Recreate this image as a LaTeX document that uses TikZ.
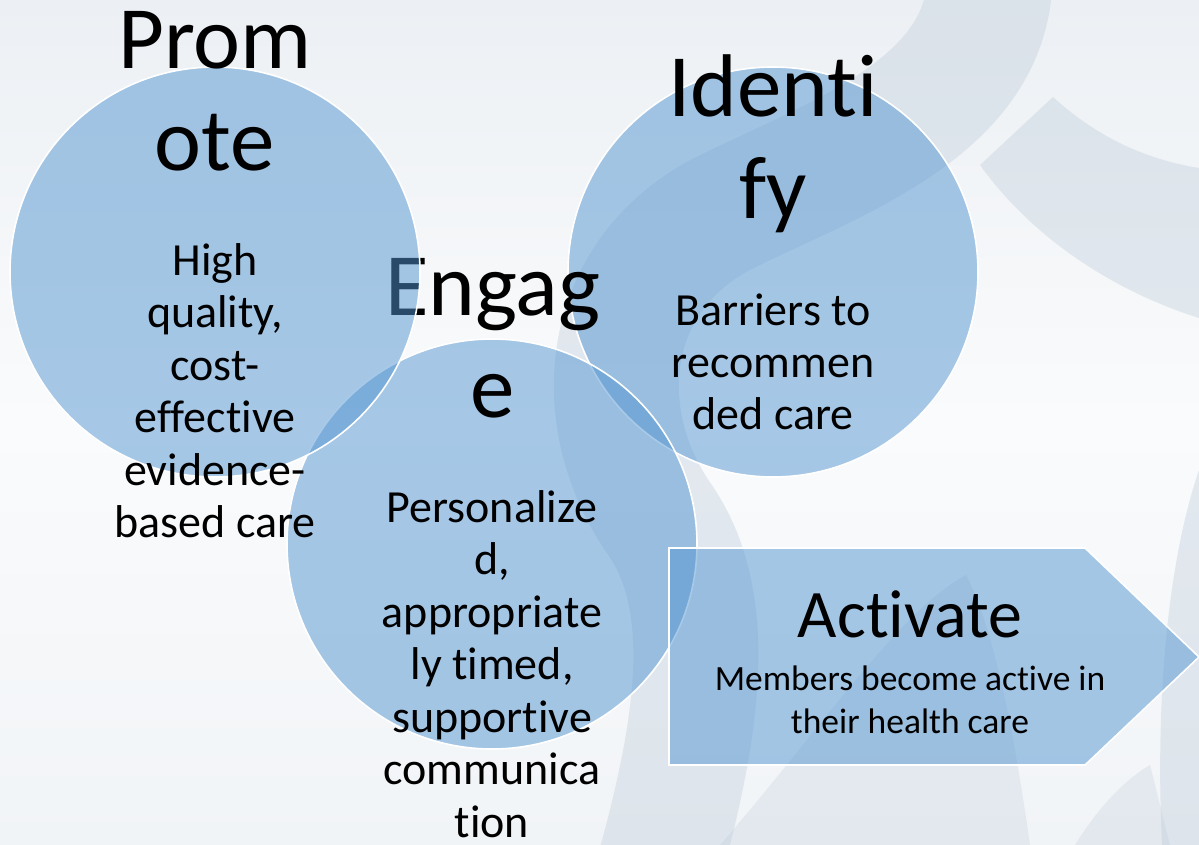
\documentclass[tikz,border=0pt]{standalone}
\usepackage{fontspec}
\setmainfont{Carlito}[Ligatures={NoCommon}]
\begin{document}
\begin{tikzpicture}[x=1pt,y=-1pt,
  bubble/.style={circle, minimum size=410pt, inner sep=0pt, draw=white, line width=1.6pt,
    fill=venn, fill opacity=0.5},
  headline/.style={font=\fontsize{89}{107}\selectfont, text=black, inner sep=0pt},
  body/.style={font=\fontsize{46}{55}\selectfont, text=black, inner sep=0pt},
  smallbody/.style={font=\fontsize{35.5}{43}\selectfont, text=black, inner sep=0pt},
  ribbon/.style={fill=ribbongray, draw=none, opacity=0.38},
  band/.style={draw=ribbongray, line cap=butt, opacity=0.38}]
\definecolor{venn}{RGB}{83,149,209}
\definecolor{ribbongray}{RGB}{190,204,218}
\definecolor{bgtop}{RGB}{236,240,244}
\definecolor{bgmid}{RGB}{250,251,252}
\definecolor{bgbot}{RGB}{241,244,247}

% page and soft background
\useasboundingbox (0,0) rectangle (1199,845);
\shade[top color=bgtop, bottom color=bgbot, middle color=bgmid] (0,0) rectangle (1199,845);

% faint ribbons of the backdrop
\draw[band, line width=125pt] (990,-20) .. controls (985,110) and (830,160) .. (720,215)
  .. controls (600,280) and (590,420) .. (660,520)
  .. controls (715,600) and (700,720) .. (660,865);
\fill[ribbon] (980,165) -- (1053,97) .. controls (1100,140) and (1150,160) .. (1199,168)
  -- (1199,318) .. controls (1110,290) and (1030,235) .. cycle;
\fill[ribbon] (1199,470) .. controls (1168,560) and (1155,700) .. (1162,845) -- (1199,845) -- cycle;
\fill[ribbon, opacity=0.28] (720,845) .. controls (820,730) and (900,610) .. (966,575)
  .. controls (995,630) and (1015,740) .. (1030,845) -- cycle;
\fill[ribbon, opacity=0.28] (1075,845) .. controls (1100,805) and (1125,780) .. (1150,765)
  -- (1170,845) -- cycle;

% Identify circle and its text
\node[bubble] (identify) at (773,272) {};
\foreach \t [count=\i from 0] in {Identi,fy}
  \node[headline, anchor=base] (idh\i) at (773,{117+101.5*\i}) {\t};
\foreach \t [count=\i from 0] in {Barriers to,recommen,ded care}
  \node[body, anchor=base] (idb\i) at (773,{325+52*\i}) {\t};

% Engage circle and its text
\node[bubble] (engage) at (492,544) {};
\foreach \t [count=\i from 0] in {Engag,e}
  \node[headline, anchor=base] (enh\i) at (493,{315+102*\i}) {\t};
\foreach \t [count=\i from 0] in {Personalize,{d,},appropriate,{ly timed,},supportive,communica,tion}
  \node[body, anchor=base] (enb\i) at (492,{522+52.5*\i}) {\t};

% Promote circle and its text
\node[bubble] (promote) at (215,272) {};
\foreach \t [count=\i from 0] in {Prom,ote}
  \node[headline, anchor=base] (prh\i) at (215,{69+101.5*\i}) {\t};
\foreach \t [count=\i from 0] in {High,{quality,},cost-,effective,evidence-,based care}
  \node[body, anchor=base] (prb\i) at (215,{275+52.5*\i}) {\t};

% Activate arrow box
\coordinate (a1) at (669,548);
\coordinate (a2) at (1085,548);
\coordinate (a3) at (1199,657);
\coordinate (a4) at (1085,765);
\coordinate (a5) at (669,765);
\filldraw[fill=venn, fill opacity=0.5, draw=white, line width=1.6pt]
  (a1) -- (a2) -- (a3) -- (a4) -- (a5) -- cycle;
\node[font=\fontsize{68}{82}\selectfont, inner sep=0pt, anchor=base] (acth) at (910,637) {Activate};
\node[smallbody, anchor=base] (actb0) at (910,690) {Members become active in};
\node[smallbody, anchor=base] (actb1) at (910,733) {their health care};
\end{tikzpicture}
\end{document}
